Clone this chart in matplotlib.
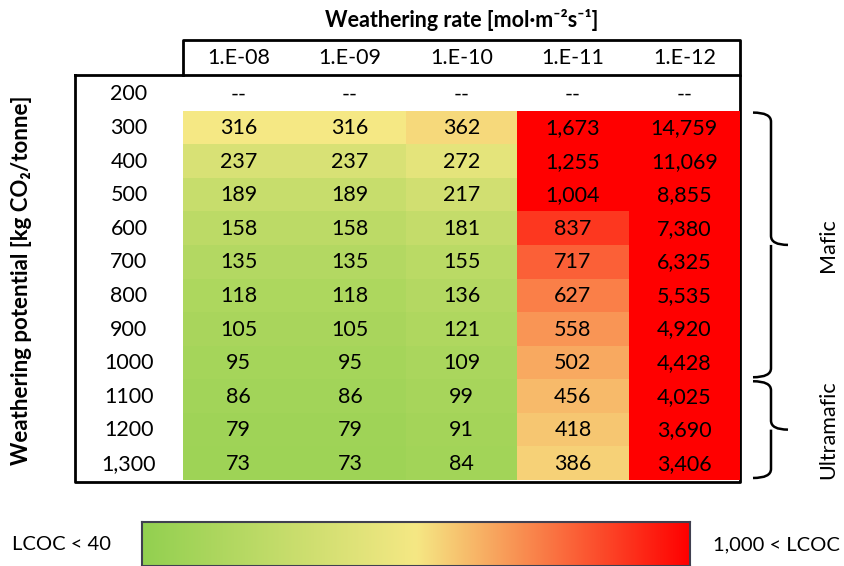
import numpy as np
import matplotlib
matplotlib.use("Agg")
import matplotlib.pyplot as plt
from matplotlib.colors import LinearSegmentedColormap, TwoSlopeNorm
from matplotlib.path import Path
from matplotlib.patches import PathPatch

plt.rcParams['font.family'] = ['Lato', 'DejaVu Sans']

rates = ['1.E-08', '1.E-09', '1.E-10', '1.E-11', '1.E-12']
potentials = ['200', '300', '400', '500', '600', '700', '800', '900',
              '1000', '1100', '1200', '1,300']
lcoc = np.array([
    [np.nan, np.nan, np.nan, np.nan, np.nan],
    [316, 316, 362, 1673, 14759],
    [237, 237, 272, 1255, 11069],
    [189, 189, 217, 1004, 8855],
    [158, 158, 181, 837, 7380],
    [135, 135, 155, 717, 6325],
    [118, 118, 136, 627, 5535],
    [105, 105, 121, 558, 4920],
    [95, 95, 109, 502, 4428],
    [86, 86, 99, 456, 4025],
    [79, 79, 91, 418, 3690],
    [73, 73, 84, 386, 3406],
])
groups = ['Mafic', 'Ultramafic']
group_rows = [(1, 8), (9, 11)]  # first/last row index per group

cmap = LinearSegmentedColormap.from_list(
    'lcoc', ['#92D050', '#F5E884', '#FF0000'])
norm = TwoSlopeNorm(vmin=40, vcenter=318, vmax=1000)

W, H = 845, 566
fig = plt.figure(figsize=(W / 100, H / 100), dpi=100)

# overlay in pixel coordinates for frames, brackets and labels
bg = fig.add_axes([0, 0, 1, 1])
bg.set_xlim(0, W)
bg.set_ylim(H, 0)
bg.axis('off')

x0, x1, y0, y1 = 183, 740, 77, 480
ax = fig.add_axes([x0 / W, 1 - y1 / H, (x1 - x0) / W, (y1 - y0) / H])
ax.pcolormesh(np.ma.masked_invalid(lcoc), cmap=cmap, norm=norm)
ax.set_xlim(0, len(rates))
ax.set_ylim(len(potentials), 0)
ax.axis('off')

fs = 15.5
for i in range(len(potentials)):
    for j in range(len(rates)):
        v = lcoc[i, j]
        s = '--' if np.isnan(v) else f'{v:,.0f}'
        ax.text(j + 0.5, i + 0.52, s, ha='center', va='center', fontsize=fs)

# column headers and row labels
col_w = (x1 - x0) / len(rates)
row_h = (y1 - y0) / len(potentials)
for j, r in enumerate(rates):
    bg.text(x0 + (j + 0.5) * col_w, 58, r, ha='center', va='center', fontsize=fs)
for i, p in enumerate(potentials):
    bg.text(129, y0 + (i + 0.52) * row_h, p, ha='center', va='center', fontsize=fs)

# frames
lw = 2
bg.plot([183, 183, 740, 740], [75, 40, 40, 75], color='black', lw=lw)
bg.plot([75, 740, 740, 75, 75], [75, 75, 482, 482, 75], color='black', lw=lw)

bg.text(462, 20, 'Weathering rate [mol·m⁻²s⁻¹]', ha='center', va='center',
        fontsize=15.5, fontweight='bold')
bg.text(22, 280, 'Weathering potential [kg CO₂/tonne]', ha='center',
        va='center', rotation=90, fontsize=16, fontweight='bold')


def brace(top, bot, x_start=753, x_line=771, x_tip=788):
    mid = (top + bot) / 2
    c = 9
    verts = [(x_start, top), (x_line, top), (x_line, top + c),
             (x_line, mid - c), (x_line, mid), (x_tip, mid),
             (x_line, mid), (x_line, mid + c),
             (x_line, bot - c), (x_line, bot), (x_start, bot)]
    codes = [Path.MOVETO, Path.CURVE3, Path.CURVE3,
             Path.LINETO, Path.CURVE3, Path.CURVE3,
             Path.MOVETO, Path.CURVE3,
             Path.LINETO, Path.CURVE3, Path.CURVE3]
    bg.add_patch(PathPatch(Path(verts, codes), fill=False, lw=1.8,
                           edgecolor='black'))
    return mid


for name, (r0, r1) in zip(groups, group_rows):
    top = y0 + r0 * row_h + 2
    bot = y0 + (r1 + 1) * row_h - 2
    mid = brace(top, bot)
    bg.text(828, mid, name, ha='center', va='center', rotation=90, fontsize=fs)

# colour scale legend
cb = fig.add_axes([142 / W, 0, (690 - 142) / W, (H - 522) / H])
cb.imshow(np.linspace(0, 1, 256)[None, :], aspect='auto', cmap=cmap,
          extent=[0, 1, 0, 1])
cb.set_xticks([])
cb.set_yticks([])
for s in cb.spines.values():
    s.set_color('#404050')
    s.set_linewidth(1.5)
bg.text(62, 545, 'LCOC < 40', ha='center', va='center', fontsize=14.5)
bg.text(776, 545, '1,000 < LCOC', ha='center', va='center', fontsize=14.5)

fig.savefig('out.png', dpi=100)
